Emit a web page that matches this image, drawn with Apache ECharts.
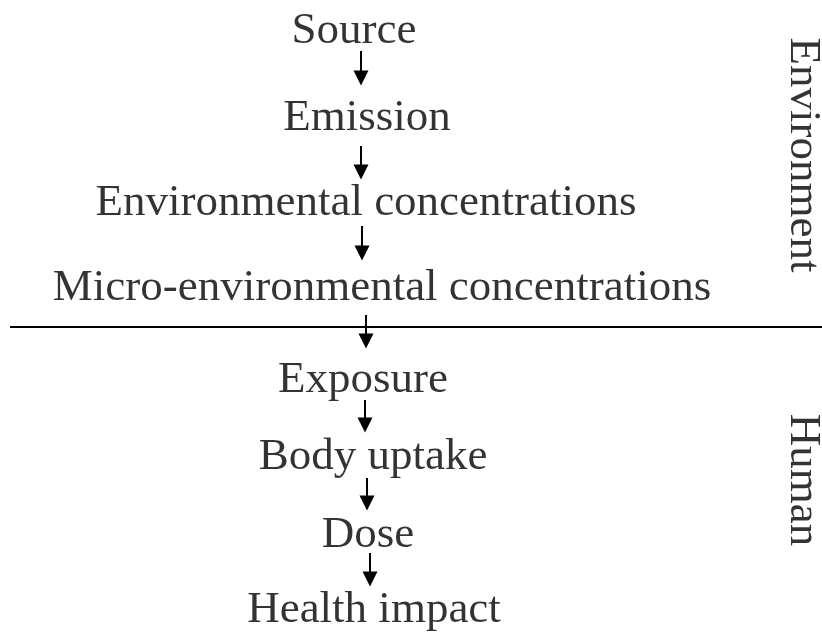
<!DOCTYPE html>
<html>
<head>
<meta charset="utf-8">
<script src="https://cdn.jsdelivr.net/npm/echarts@6/dist/echarts.min.js"></script>
<style>html,body{margin:0;padding:0;background:#fff;}#c{width:822px;height:632px;}</style>
</head>
<body>
<div id="c"></div>
<script>
// Content
const steps = ['Source', 'Emission', 'Environmental concentrations', 'Micro-environmental concentrations',
               'Exposure', 'Body uptake', 'Dose', 'Health impact'];
const sideLabels = ['Environment', 'Human'];

// Layout (pixel-space coordinates on a hidden 822x632 cartesian plane)
const stepX = [354, 367, 366, 382, 363, 373, 368, 374];
const stepY = [31, 118, 203, 288, 380, 457, 535, 610];
const arrowX = [361, 361, 362, 366, 365, 367, 370];
const arrowY0 = [51, 146, 226, 315, 400, 478, 553];
const arrowY1 = [78, 172, 253, 341, 425, 503, 579];
const sideX = [803, 803];
const sideY = [155, 480];
const dividerY = 327;

const FONT = "'Liberation Serif', 'Times New Roman', serif";
const chart = echarts.init(document.getElementById('c'));

const stepData = steps.map((s, i) => ({ name: s, value: [stepX[i], stepY[i]] }));
const sideData = sideLabels.map((s, i) => ({ name: s, value: [sideX[i], sideY[i]] }));
const arrows = arrowX.map((x, i) => ({ coords: [[x, arrowY0[i]], [x, arrowY1[i]]] }));

const labelStyle = { show: true, position: 'inside', formatter: '{b}', color: '#000', fontFamily: FONT, fontSize: 45, textBorderWidth: 0 };

chart.setOption({
  animation: false,
  backgroundColor: '#fff',
  grid: { left: 0, right: 0, top: 0, bottom: 0 },
  xAxis: { type: 'value', min: 0, max: 822, show: false },
  yAxis: { type: 'value', min: 0, max: 632, inverse: true, show: false },
  series: [
    {
      type: 'scatter', data: stepData, symbolSize: 1,
      itemStyle: { color: 'rgba(0,0,0,0)' },
      label: labelStyle,
      silent: true
    },
    {
      type: 'scatter', data: sideData, symbolSize: 1,
      itemStyle: { color: 'rgba(0,0,0,0)' },
      label: Object.assign({}, labelStyle, { rotate: -90 }),
      silent: true
    },
    {
      type: 'lines', coordinateSystem: 'cartesian2d', data: arrows,
      symbol: ['none', 'triangle'], symbolSize: [13, 15],
      lineStyle: { color: '#000', width: 2, opacity: 1 },
      silent: true
    },
    {
      type: 'lines', coordinateSystem: 'cartesian2d',
      data: [{ coords: [[10, dividerY], [822, dividerY]] }],
      symbol: ['none', 'none'],
      lineStyle: { color: '#000', width: 2, opacity: 1 },
      silent: true
    }
  ]
});
</script>
</body>
</html>
